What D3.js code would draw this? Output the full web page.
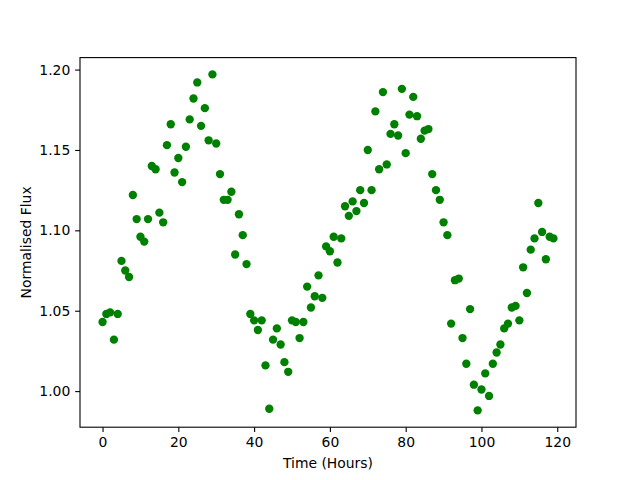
<!DOCTYPE html>
<html>
<head>
<meta charset="utf-8">
<script src="https://cdn.jsdelivr.net/npm/d3@7"></script>
<style>
  body { margin: 0; background: #fff; }
  text { font-family: "DejaVu Sans", sans-serif; }
</style>
</head>
<body>
<svg id="chart" width="640" height="480"></svg>
<script>
const hours = d3.range(0, 120);
const flux = [
  1.043, 1.048, 1.049, 1.032, 1.048, 1.081, 1.075, 1.071, 1.122, 1.107,
  1.096, 1.093, 1.107, 1.140, 1.138, 1.111, 1.105, 1.153, 1.166, 1.136,
  1.145, 1.130, 1.152, 1.169, 1.182, 1.192, 1.165, 1.176, 1.156, 1.197,
  1.154, 1.135, 1.119, 1.119, 1.124, 1.085, 1.110, 1.097, 1.079, 1.048,
  1.044, 1.038, 1.044, 1.016, 0.989, 1.032, 1.039, 1.029, 1.018, 1.012,
  1.044, 1.043, 1.033, 1.043, 1.065, 1.052, 1.059, 1.072, 1.058, 1.090,
  1.087, 1.096, 1.080, 1.095, 1.115, 1.109, 1.118, 1.112, 1.125, 1.117,
  1.150, 1.125, 1.174, 1.138, 1.186, 1.141, 1.160, 1.166, 1.159, 1.188,
  1.148, 1.172, 1.183, 1.171, 1.157, 1.162, 1.163, 1.135, 1.125, 1.119,
  1.105, 1.097, 1.042, 1.069, 1.070, 1.033, 1.017, 1.051, 1.004, 0.988,
  1.001, 1.011, 0.997, 1.017, 1.024, 1.029, 1.039, 1.042, 1.052, 1.053,
  1.044, 1.077, 1.061, 1.088, 1.095, 1.117, 1.099, 1.082, 1.096, 1.095
];
const xTicks = [0, 20, 40, 60, 80, 100, 120];
const yTicks = [1.00, 1.05, 1.10, 1.15, 1.20];
const xLabel = "Time (Hours)";
const yLabel = "Normalised Flux";

const svg = d3.select("#chart");
const mLeft = 80, mRight = 576, mTop = 57.6, mBottom = 427.2;

const xMin = d3.min(hours), xMax = d3.max(hours);
const xPad = (xMax - xMin) * 0.05;
const yMin = d3.min(flux), yMax = d3.max(flux);
const yPad = (yMax - yMin) * 0.05;

const x = d3.scaleLinear().domain([xMin - xPad, xMax + xPad]).range([mLeft, mRight]);
const y = d3.scaleLinear().domain([yMin - yPad, yMax + yPad]).range([mBottom, mTop]);

svg.append("rect").attr("x", 0).attr("y", 0).attr("width", 640).attr("height", 480).attr("fill", "#fff");

// points
svg.append("g").selectAll("circle")
  .data(hours)
  .join("circle")
  .attr("cx", (d, i) => x(hours[i]))
  .attr("cy", (d, i) => y(flux[i]))
  .attr("r", 4.17)
  .attr("fill", "#008000");

// axes
const xAxis = d3.axisBottom(x).tickValues(xTicks).tickSize(4.86).tickPadding(4.9).tickFormat(d3.format("d"));
const yAxis = d3.axisLeft(y).tickValues(yTicks).tickSize(4.86).tickPadding(4.9).tickFormat(d3.format(".2f"));

const gx = svg.append("g").attr("transform", `translate(0,${mBottom})`).call(xAxis);
const gy = svg.append("g").attr("transform", `translate(${mLeft},0)`).call(yAxis);
[gx, gy].forEach(g => {
  g.select(".domain").remove();
  g.selectAll(".tick line").attr("stroke", "#000").attr("stroke-width", 1.1);
  g.selectAll(".tick text").attr("fill", "#000").style("font-size", "13.9px").style("font-family", "'DejaVu Sans', sans-serif");
});

// frame
svg.append("rect")
  .attr("x", mLeft).attr("y", mTop)
  .attr("width", mRight - mLeft).attr("height", mBottom - mTop)
  .attr("fill", "none").attr("stroke", "#000").attr("stroke-width", 1.1);

svg.append("text")
  .attr("x", (mLeft + mRight) / 2).attr("y", 468)
  .attr("text-anchor", "middle")
  .style("font-size", "13.9px")
  .text(xLabel);

svg.append("text")
  .attr("transform", `translate(31,${(mTop + mBottom) / 2}) rotate(-90)`)
  .attr("text-anchor", "middle")
  .style("font-size", "13.9px")
  .text(yLabel);
</script>
</body>
</html>
